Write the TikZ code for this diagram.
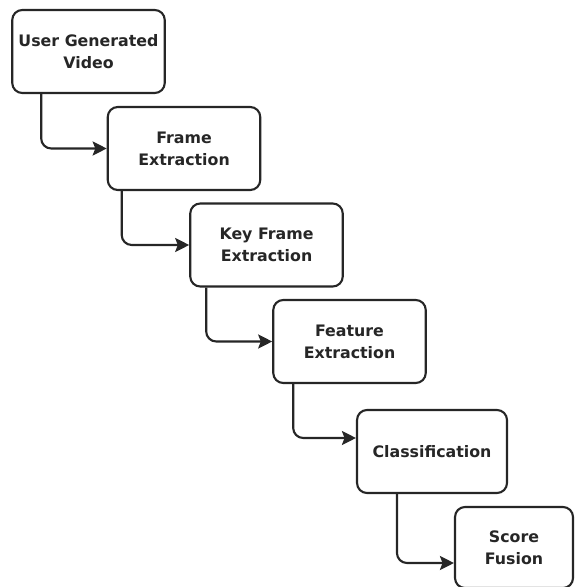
\documentclass[tikz,border=0pt]{standalone}
\usepackage{fontspec}
\setsansfont{DejaVu Sans}
\usepackage{tikz}
\usetikzlibrary{arrows,arrows.meta,calc,positioning}
\tikzset{>={Stealth[length=8pt,width=8pt,inset=1.5pt]}}

\begin{document}
\begin{tikzpicture}[font=\sffamily\bfseries,x=0.02cm,y=-0.02cm]

        \useasboundingbox (0,0) rectangle (574,587);

        % Setup the style for the steps
        \tikzset{step box/.style={rectangle,
                                  rounded corners=0.2cm,
                                  minimum width=3.05cm,
                                  minimum height=1.66cm,
                                  line width=1.2pt,
                                  draw=black!85,
                                  fill=white,
                                  align=center,
                                  text=black!85,
                                  font=\sffamily\bfseries\fontsize{9}{12.5}\selectfont},
                 flow/.style={->, line width=1.2pt, draw=black!85, rounded corners=0.2cm}}

        % Draw the steps
        \node[step box] at (88.5, 51.5)   (ugv)  {User Generated\\Video};
        \node[step box] at (184, 148.5)   (fe)   {Frame\\Extraction};
        \node[step box] at (266.5, 245)   (kfe)  {Key Frame\\Extraction};
        \node[step box] at (349.5, 341.5) (fx)   {Feature\\Extraction};
        \node[step box, minimum width=3cm] at (432, 451.5) (cls) {Classification};
        \node[step box, minimum width=2.36cm, minimum height=1.62cm] at (514, 547.5) (sf) {Score\\Fusion};

        % Connect the steps
        \draw[flow] ($(ugv.south west)+(30,0)$) |- (fe.west);
        \draw[flow] ($(fe.south west)+(15,0)$)  |- (kfe.west);
        \draw[flow] ($(kfe.south west)+(17,0)$) |- (fx.west);
        \draw[flow] ($(fx.south west)+(21,0)$)  |- ($(cls.west)+(0,-13.5)$);
        \draw[flow] ($(cls.south west)+(41,0)$) |- ($(sf.west)+(0,15.5)$);
    \end{tikzpicture}
\end{document}
